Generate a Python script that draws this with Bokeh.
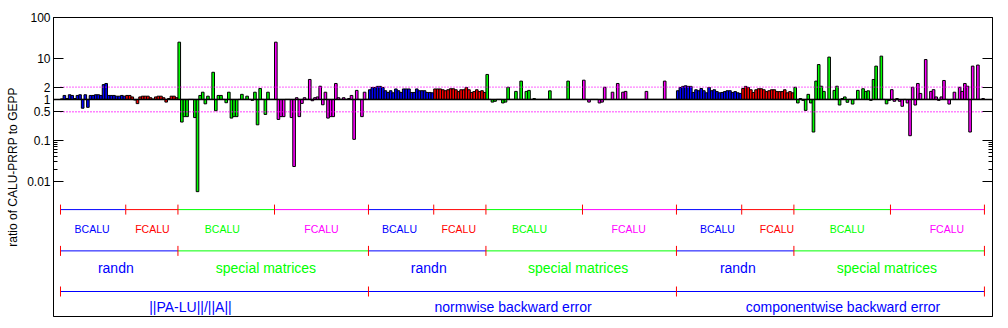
import numpy as np
from bokeh.plotting import figure
from bokeh.models import FixedTicker, LogAxis, CustomJSTickFormatter, Span, ColumnDataSource
from bokeh.core.properties import value
from bokeh.embed import file_html
from bokeh.resources import INLINE

# ---------------- data ----------------
sections = ["||PA-LU||/||A||", "normwise backward error", "componentwise backward error"]
matrix_sets = ["randn", "special matrices"]
methods = ["BCALU", "FCALU", "BCALU", "FCALU"]
group_colors = ["#0000ff", "#ff0000", "#00ff00", "#ff00ff"]
set_colors = ["#0000ff", "#00ff00"]

# ||PA-LU||/||A||
pa_bcalu_randn = [1.03, 1.25, 1.05, 1.3, 1.25, 1.05, 1.25, 1.3, 0.61, 1.3, 0.64, 1.25, 1.25,
                  1.3, 1.3, 1.25, 2.3, 2.45, 1.25, 1.25, 1.25, 1.2, 1.2, 1.25, 1.2]
pa_fcalu_randn = [1.25, 1.25, 1.15, 0.97, 0.79, 1.15, 1.2, 1.2, 1.2, 1.1, 1.02, 1.15, 1.2,
                  1.2, 1.1, 0.86, 1.05, 1.2, 1.2, 1.1]
pa_bcalu_special = [25, 0.28, 0.38, 0.38, 1, 1, 0.36, 0.0056, 1.25, 1.5, 0.78, 1.2, 1, 4.6,
                    0.53, 1.25, 1.25, 1, 0.83, 1.5, 0.35, 0.38, 0.38, 1, 1.33, 1, 1.2, 1,
                    0.95, 1.5, 0.24, 1.85, 1, 0.43, 1.5, 1, 1]
pa_fcalu_special = [25, 0.325, 0.38, 0.38, 1, 1, 0.36, 0.023, 1.1, 0.38, 0.8, 1.1, 1, 3.07,
                    0.93, 1.1, 1.15, 2.1, 0.74, 1.5, 0.35, 0.38, 0.38, 2.45, 1.1, 1, 1.1, 1,
                    1.05, 1.25, 0.106, 1.66, 1, 0.38, 1.5, 1]
# normwise backward error
nw_bcalu_randn = [1.72, 1.96, 1.96, 2.08, 2.08, 1.96, 1.63, 1.48, 1.63, 1.45, 1.8, 1.63, 1.48,
                  1.8, 1.8, 1.8, 1.48, 1.48, 1.8, 1.63, 1.63, 1.63, 1.48, 1.48, 1.45]
nw_fcalu_randn = [1.8, 1.8, 1.8, 1.72, 1.63, 1.72, 1.82, 1.82, 1.72, 1.55, 1.72, 1.72, 1.96,
                  1.72, 1.48, 1.55, 1.72, 1.55, 1.63, 1.48]
nw_bcalu_special = [4.07, 1, 0.86, 0.9, 1, 1, 0.82, 0.86, 1.98, 1, 1, 1.57, 1, 2.8, 1, 1.57,
                    1.66, 1, 1.05, 1, 1, 1, 1, 1, 1.62, 1, 1, 1, 1, 1, 1, 2.8, 1, 1, 1, 1, 1]
nw_fcalu_special = [2.95, 1, 0.86, 1, 1, 1, 0.82, 0.86, 1.98, 1, 1, 1.5, 1, 2.45, 1, 1.5,
                    1.57, 1, 1, 1, 1, 1, 1, 1, 1.57, 1, 1, 1, 1, 1, 1, 2.8, 1, 1, 1, 1]
# componentwise backward error
cw_bcalu_randn = [1.63, 1.96, 2.08, 2.15, 2.08, 2.08, 1.48, 1.72, 1.63, 1.85, 1.63, 1.45, 1.96,
                  1.63, 1.72, 1.55, 1.45, 1.48, 1.55, 1.63, 1.63, 1.48, 1.55, 1.45, 1.4]
cw_fcalu_randn = [1.85, 2.08, 1.96, 1.72, 1.48, 1.72, 1.82, 1.82, 1.72, 1.55, 1.63, 1.72, 1.72,
                  1.55, 1.55, 1.55, 1.72, 1.45, 1.55, 1.45]
cw_bcalu_special = [1.98, 0.82, 1.05, 0.95, 0.54, 1.33, 0.82, 0.16, 2.8, 7.1, 2.1, 1.57, 1,
                    10.8, 1, 1.66, 2.1, 0.73, 1.05, 1.15, 0.85, 1, 0.77, 1, 1.66, 1, 1.82,
                    1.57, 1.62, 0.95, 3.07, 6.5, 1, 11.4, 1, 0.78, 0.95]
cw_fcalu_special = [1.73, 0.9, 1.05, 0.9, 0.68, 1, 0.82, 0.13, 1.98, 0.73, 2.45, 1.4, 1, 9.4,
                    1, 1.57, 1.73, 1.15, 0.95, 1.15, 2.9, 1, 0.77, 1, 1.5, 1, 1.98, 1.57,
                    2.45, 2.1, 0.16, 6.5, 1, 6.9, 1, 1.05]

y_ticks = [0.01, 0.1, 0.5, 1, 2, 10, 100]
y_minor_ticks = [0.02, 0.03, 0.04, 0.05, 0.06, 0.07, 0.08, 0.09]

all_data = [
    [pa_bcalu_randn, pa_fcalu_randn, pa_bcalu_special, pa_fcalu_special],
    [nw_bcalu_randn, nw_fcalu_randn, nw_bcalu_special, nw_fcalu_special],
    [cw_bcalu_randn, cw_fcalu_randn, cw_bcalu_special, cw_fcalu_special],
]

# ---------------- bars ----------------
left, right, top, fill = [], [], [], []
group_bounds = []     # (start, end, group index)
set_bounds = []       # (start, end, set index)
section_bounds = []   # (start, end)
pos = 0
for sec in all_data:
    sec_start = pos
    for g, vals in enumerate(sec):
        g_start = pos
        for v in vals:
            left.append(pos)
            right.append(pos + 1)
            top.append(v)
            fill.append(group_colors[g])
            pos += 1
        group_bounds.append((g_start, pos, g))
    n_randn = len(sec[0]) + len(sec[1])
    set_bounds.append((sec_start, sec_start + n_randn, 0))
    set_bounds.append((sec_start + n_randn, pos, 1))
    section_bounds.append((sec_start, pos))
total = pos

p = figure(width=1000, height=320, y_axis_type="log",
           x_range=(-2.68, 357.09), y_range=(10 ** -5.3, 100),
           output_backend="svg", toolbar_location=None, x_axis_location=None,
           min_border_left=53, min_border_right=8, min_border_top=17, min_border_bottom=4)
p.grid.visible = False
p.outline_line_color = "black"
p.outline_line_width = 1
p.background_fill_color = "white"
p.border_fill_color = "white"

src = ColumnDataSource(dict(left=left, right=right, top=top, bottom=[1] * len(top), fill=fill))
p.quad(left="left", right="right", top="top", bottom="bottom", source=src,
       fill_color="fill", line_color="black", line_width=1)

p.add_layout(Span(location=1, dimension="width", line_color="black", line_width=1.5))
p.segment(x0=[0, 0], x1=[total, total], y0=[2, 0.5], y1=[2, 0.5],
          line_color="#ff00ff", line_width=1.3, line_dash="1 2")

# ---------------- axes ----------------
ticker = FixedTicker(ticks=y_ticks, minor_ticks=y_minor_ticks)
ya = p.yaxis[0]
ya.ticker = ticker
ya.formatter = CustomJSTickFormatter(code="return tick.toString();")
ya.major_tick_in = 10
ya.major_tick_out = 0
ya.minor_tick_in = 4
ya.minor_tick_out = 0
ya.major_label_standoff = 3
ya.major_label_text_font = "Liberation Sans"
ya.major_label_text_font_size = "12px"
ya.major_label_text_color = "black"
ya.axis_label = "ratio of CALU-PRRP to GEPP"
ya.axis_label_text_font = "Liberation Sans"
ya.axis_label_text_font_size = "12px"
ya.axis_label_text_font_style = "normal"
ya.axis_label_text_color = "black"
ya.axis_label_standoff = 4
ya.axis_line_color = "black"

ra = LogAxis(ticker=ticker, major_tick_in=10, major_tick_out=0, minor_tick_in=4,
             minor_tick_out=0, major_label_text_font_size="0px", major_label_standoff=0,
             major_label_text_color=None, axis_line_color="black")
p.add_layout(ra, "right")

# ---------------- annotation rows ----------------
def ylog(e):
    return 10 ** e

row1_y, row1_ly = ylog(-2.69), ylog(-3.154)
row2_y, row2_ly = ylog(-3.698), ylog(-4.105)
row3_y, row3_ly = ylog(-4.69), ylog(-5.068)

# row 1: methods
p.segment(x0=[b[0] for b in group_bounds], x1=[b[1] for b in group_bounds],
          y0=row1_y, y1=row1_y, line_color=[group_colors[b[2]] for b in group_bounds], line_width=1)
ticks1 = sorted(set([b[0] for b in group_bounds] + [b[1] for b in group_bounds]))
p.scatter(x=ticks1, y=[row1_y] * len(ticks1), marker="dash", angle=np.pi / 2, size=10,
          line_color="#ff0000", line_width=1)
row1_lx = [12.1, 35.2, 62, 100, 129.9, 152.6, 179.7, 217.7, 251.7, 274.5, 301.4, 339.6]
p.text(x=row1_lx, y=[row1_ly] * len(row1_lx), text=[methods[b[2]] for b in group_bounds],
       text_color=[group_colors[b[2]] for b in group_bounds],
       text_font=value("Liberation Sans"), text_font_size=value("10.5px"),
       text_align="center", text_baseline="middle")

# row 2: matrix sets
p.segment(x0=[b[0] for b in set_bounds], x1=[b[1] for b in set_bounds],
          y0=row2_y, y1=row2_y, line_color=[set_colors[b[2]] for b in set_bounds], line_width=1)
ticks2 = sorted(set([b[0] for b in set_bounds] + [b[1] for b in set_bounds]))
p.scatter(x=ticks2, y=[row2_y] * len(ticks2), marker="dash", angle=np.pi / 2, size=10,
          line_color="#ff0000", line_width=1)
row2_lx = [21.2, 78.7, 141.1, 198.3, 259.5, 316.6]
p.text(x=row2_lx, y=[row2_ly] * len(row2_lx), text=[matrix_sets[b[2]] for b in set_bounds],
       text_color=[set_colors[b[2]] for b in set_bounds],
       text_font=value("Liberation Sans"), text_font_size=value("14px"),
       text_align="center", text_baseline="middle")

# row 3: error measures
p.segment(x0=[b[0] for b in section_bounds], x1=[b[1] for b in section_bounds],
          y0=row3_y, y1=row3_y, line_color="#0000ff", line_width=1)
ticks3 = sorted(set([b[0] for b in section_bounds] + [b[1] for b in section_bounds]))
p.scatter(x=ticks3, y=[row3_y] * len(ticks3), marker="dash", angle=np.pi / 2, size=10,
          line_color="#ff0000", line_width=1)
row3_lx = [49.8, 173.4, 299.8]
p.text(x=row3_lx, y=[row3_ly] * len(row3_lx), text=sections,
       text_color="#0000ff",
       text_font=value("Liberation Sans"), text_font_size=value("14px"),
       text_align="center", text_baseline="middle")

open("out.html", "w").write(file_html(p, INLINE))
